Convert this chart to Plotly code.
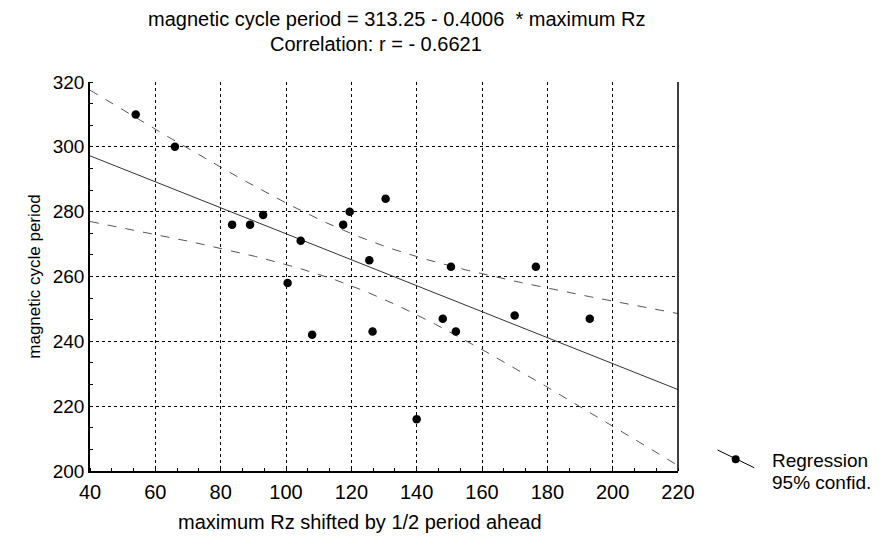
import numpy as np
import plotly.graph_objects as go

# ---- data ----
rz_max = [54, 66, 83.5, 89, 93, 100.5, 104.5, 108, 117.5, 119.5,
          125.5, 126.5, 130.5, 140, 148, 150.5, 152, 170, 176.5, 193]
cycle_period = [310, 300, 276, 276, 279, 258, 271, 242, 276, 280,
                265, 243, 284, 216, 247, 263, 243, 248, 263, 247]
intercept = 313.25
slope = -0.4006
t_crit = 2.1009  # t(0.975, df=18)
x_ticks = [40, 60, 80, 100, 120, 140, 160, 180, 200, 220]
y_ticks = [200, 220, 240, 260, 280, 300, 320]

x = np.array(rz_max, dtype=float)
y = np.array(cycle_period, dtype=float)
n = len(x)
xbar = x.mean()
sxx = ((x - xbar) ** 2).sum()
resid = y - (intercept + slope * x)
s = np.sqrt((resid ** 2).sum() / (n - 2))

xs = np.linspace(x_ticks[0], x_ticks[-1], 200)
yhat = intercept + slope * xs
half = t_crit * s * np.sqrt(1.0 / n + (xs - xbar) ** 2 / sxx)

FONT = "Liberation Sans, Arial, sans-serif"
fig = go.Figure()
fig.add_trace(go.Scatter(x=xs, y=yhat + half, mode="lines",
                         line=dict(color="#555", width=1, dash="dash"), showlegend=False))
fig.add_trace(go.Scatter(x=xs, y=yhat - half, mode="lines",
                         line=dict(color="#555", width=1, dash="dash"), showlegend=False))
fig.add_trace(go.Scatter(x=xs, y=yhat, mode="lines",
                         line=dict(color="#333", width=1), showlegend=False))
fig.add_trace(go.Scatter(x=rz_max, y=cycle_period, mode="markers",
                         marker=dict(color="black", size=8.5), showlegend=False))

axis_common = dict(
    showgrid=True, gridcolor="black", griddash="dot", gridwidth=1,
    showline=True, linecolor="black", linewidth=1.5, mirror=False,
    zeroline=False, ticks="", tickfont=dict(family=FONT, size=20, color="black"),
    minor=dict(ticks="inside", ticklen=3, tickcolor="black", showgrid=False),
)
fig.update_xaxes(range=[40, 220], tickvals=x_ticks, **axis_common)
fig.update_xaxes(minor_dtick=20 / 3, ticklabelstandoff=2)
fig.update_yaxes(range=[200, 320], tickvals=y_ticks, **axis_common)
fig.update_yaxes(minor_dtick=20 / 3, tickfont_size=19,
                 title=dict(text="magnetic cycle period",
                            font=dict(family=FONT, size=17, color="black"), standoff=8))

# x-axis title (slightly left of centre, as in the original)
fig.add_annotation(text="maximum Rz shifted by 1/2 period ahead",
                   xref="paper", yref="paper", x=0.459, y=0, yshift=-51, yanchor="middle",
                   showarrow=False, font=dict(family=FONT, size=20, color="black"))

# right border
fig.add_shape(type="line", xref="paper", yref="paper", x0=1, x1=1, y0=0, y1=1,
              line=dict(color="black", width=1.5))

# titles
fig.add_annotation(text="magnetic cycle period = 313.25 - 0.4006  * maximum Rz",
                   xref="paper", yref="paper", x=0.522, y=1, yshift=63, yanchor="middle",
                   showarrow=False, font=dict(family=FONT, size=20, color="black"))
fig.add_annotation(text="Correlation: r = - 0.6621",
                   xref="paper", yref="paper", x=0.487, y=1, yshift=38, yanchor="middle",
                   showarrow=False, font=dict(family=FONT, size=20, color="black"))

# legend glyph
fig.add_shape(type="line", xref="paper", yref="paper",
              x0=1.0672, y0=0.0540, x1=1.1296, y1=0.0085, line=dict(color="black", width=1))
fig.add_shape(type="circle", xref="paper", yref="paper",
              x0=1.0913, x1=1.1049, y0=0.0200, y1=0.0406,
              fillcolor="black", line=dict(color="black", width=0))
fig.add_annotation(text="Regression", xref="paper", yref="paper",
                   x=1.156, y=0.028, xanchor="left", yanchor="middle",
                   showarrow=False, font=dict(family=FONT, size=19, color="black"))
fig.add_annotation(text="95% confid.", xref="paper", yref="paper",
                   x=1.156, y=-0.029, xanchor="left", yanchor="middle",
                   showarrow=False, font=dict(family=FONT, size=19, color="black"))

fig.update_layout(width=882, height=543, plot_bgcolor="white", paper_bgcolor="white",
                  margin=dict(l=90, r=204, t=82, b=72))
fig.write_html("out.html")
